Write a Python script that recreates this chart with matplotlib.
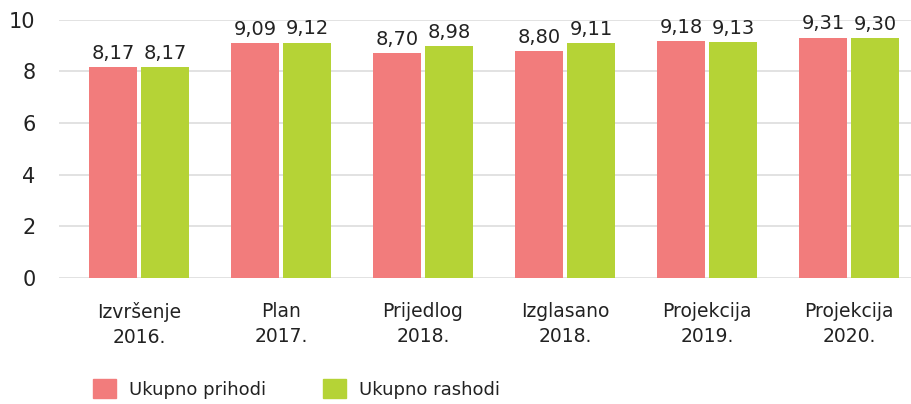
import numpy as np
import matplotlib
matplotlib.use("Agg")
import matplotlib.pyplot as plt
from matplotlib.patches import Patch

# ---------- Podaci ----------
categories = ["Izvršenje\n2016.", "Plan\n2017.", "Prijedlog\n2018.",
              "Izglasano\n2018.", "Projekcija\n2019.", "Projekcija\n2020."]
prihodi = [8.17, 9.09, 8.70, 8.80, 9.18, 9.31]
rashodi = [8.17, 9.12, 8.98, 9.11, 9.13, 9.30]
series_names = ["Ukupno prihodi", "Ukupno rashodi"]

red = "#F27C7C"
green = "#B5D336"
txt = "#222222"

plt.rcParams["font.family"] = ["DejaVu Sans"]

fig = plt.figure(figsize=(9.11, 4.04), dpi=100)
ax = fig.add_axes([0.0648, 0.312, 0.9352, 0.639])

x = np.arange(len(categories))
w = 0.338
off = 0.183
b1 = ax.bar(x - off, prihodi, w, color=red, zorder=2)
b2 = ax.bar(x + off, rashodi, w, color=green, zorder=2)

def fmt(v):
    return f"{v:.2f}".replace(".", ",")

for bars, vals in ((b1, prihodi), (b2, rashodi)):
    for b, v in zip(bars, vals):
        ax.annotate(fmt(v), (b.get_x() + b.get_width() / 2, b.get_height()),
                    xytext=(0, 3), textcoords="offset points",
                    ha="center", va="bottom", fontsize=14, color=txt)

ax.set_ylim(0, 10)
ax.set_xlim(-0.563, 5.437)
ax.set_yticks([0, 2, 4, 6, 8, 10])
ax.set_xticks(x)
ax.set_xticklabels(categories, fontsize=13.5, color=txt, linespacing=1.4)
ax.tick_params(axis="y", labelsize=15, colors=txt, length=0, pad=17)
ax.tick_params(axis="x", length=0, pad=17)

ax.grid(axis="y", color="#dddddd", linewidth=1.2, zorder=0)
ax.set_axisbelow(True)
for s in ax.spines.values():
    s.set_visible(False)

handles = [Patch(color=red), Patch(color=green)]
fig.legend(handles, series_names, loc="lower left", bbox_to_anchor=(0.084, -0.027),
           ncol=2, frameon=False, fontsize=13, handlelength=1.3, handleheight=1.3,
           columnspacing=3.15, handletextpad=0.7, labelcolor=txt)

fig.savefig("out.png", dpi=100)
